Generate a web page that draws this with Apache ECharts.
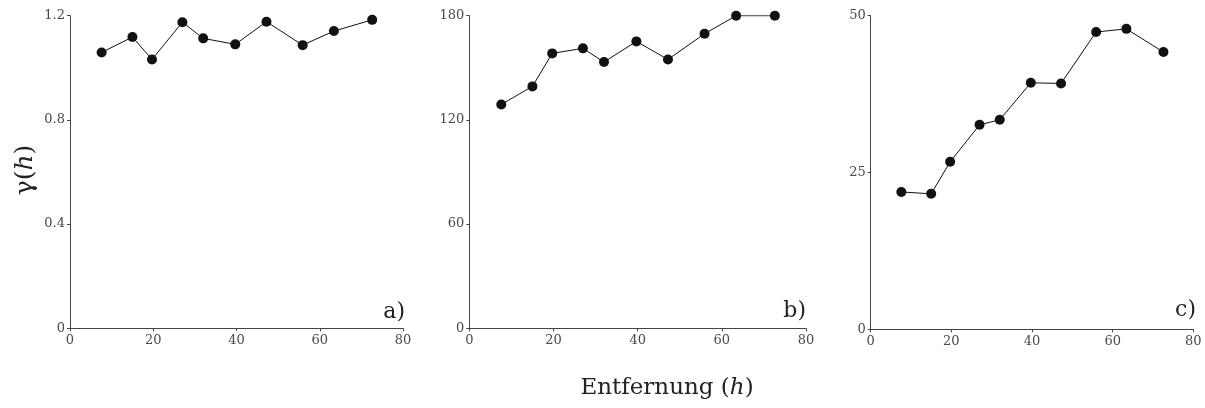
<!DOCTYPE html>
<html>
<head>
<meta charset="utf-8">
<script src="https://cdn.jsdelivr.net/npm/echarts@6/dist/echarts.min.js"></script>
<style>
html,body{margin:0;padding:0;background:#fff;}
#chart{width:1205px;height:408px;}
</style>
</head>
<body>
<div id="chart"></div>
<script>
// Data
const distances = [7.6, 15, 19.7, 27, 32, 39.7, 47.2, 55.9, 63.4, 72.6];
const seriesA = [1.059, 1.118, 1.032, 1.175, 1.113, 1.090, 1.177, 1.087, 1.141, 1.184];
const seriesB = [128.9, 139.3, 158.3, 161.2, 153.3, 165.2, 154.8, 169.6, 180, 180];
const seriesC = [21.9, 21.6, 26.7, 32.6, 33.4, 39.3, 39.2, 47.4, 47.9, 44.2];
const panelLabels = ['a)', 'b)', 'c)'];
const yMax = [1.2, 180, 50];
const yStep = [0.4, 60, 25];
const xMax = 80, xStep = 20;

const BIG = '"DejaVu Serif", "Liberation Serif", serif';
const grids = [
  {left: 70, width: 333, top: 15.7, height: 312.6},
  {left: 469.3, width: 336.7, top: 15.7, height: 312.6},
  {left: 870.7, width: 322.6, top: 15.7, height: 313.6}
];
const labelPos = [[405, 312], [806, 311], [1196, 310]];
const allSeries = [seriesA, seriesB, seriesC];

const axisLine = {show: true, lineStyle: {color: '#444', width: 1}};
const axisTick = {show: true, length: 3, inside: false, lineStyle: {color: '#444', width: 1}};
const labelStyle = {color: '#4a4a4a', fontFamily: 'DejaVu Serif', fontSize: 13};

const option = {
  animation: false,
  backgroundColor: '#fff',
  grid: grids.map(g => Object.assign({containLabel: false}, g)),
  xAxis: grids.map((g, i) => ({
    type: 'value', gridIndex: i, min: 0, max: xMax, interval: xStep,
    axisLine, axisTick, splitLine: {show: false},
    axisLabel: Object.assign({margin: 6}, labelStyle)
  })),
  yAxis: grids.map((g, i) => ({
    type: 'value', gridIndex: i, min: 0, max: yMax[i], interval: yStep[i],
    axisLine, axisTick, splitLine: {show: false},
    axisLabel: Object.assign({margin: 5}, labelStyle)
  })),
  series: allSeries.map((s, i) => ({
    type: 'line', xAxisIndex: i, yAxisIndex: i,
    data: distances.map((d, k) => [d, s[k]]),
    symbol: 'circle', symbolSize: 10,
    lineStyle: {color: '#111', width: 1},
    itemStyle: {color: '#111'}
  })),
  graphic: [
    ...labelPos.map((p, i) => ({
      type: 'text',
      x: p[0], y: p[1],
      style: {text: panelLabels[i], fill: '#222', font: '22px ' + BIG, textAlign: 'right', textVerticalAlign: 'middle'}
    })),
    {
      type: 'text', x: 25, y: 170, rotation: Math.PI / 2,
      style: {
        text: '{n|γ(}{i|h}{n|)}', textAlign: 'center', textVerticalAlign: 'middle',
        rich: {
          n: {font: '25px ' + BIG, fill: '#222'},
          i: {font: 'italic 25px ' + BIG, fill: '#222'}
        }
      }
    },
    {
      type: 'text', x: 667, y: 388,
      style: {
        text: '{n|Entfernung (}{i|h}{n|)}', textAlign: 'center', textVerticalAlign: 'middle',
        rich: {
          n: {font: '23px ' + BIG, fill: '#222'},
          i: {font: 'italic 23px ' + BIG, fill: '#222'}
        }
      }
    }
  ]
};
const chart = echarts.init(document.getElementById('chart'), null, {renderer: 'canvas'});
chart.setOption(option);
</script>
</body>
</html>
